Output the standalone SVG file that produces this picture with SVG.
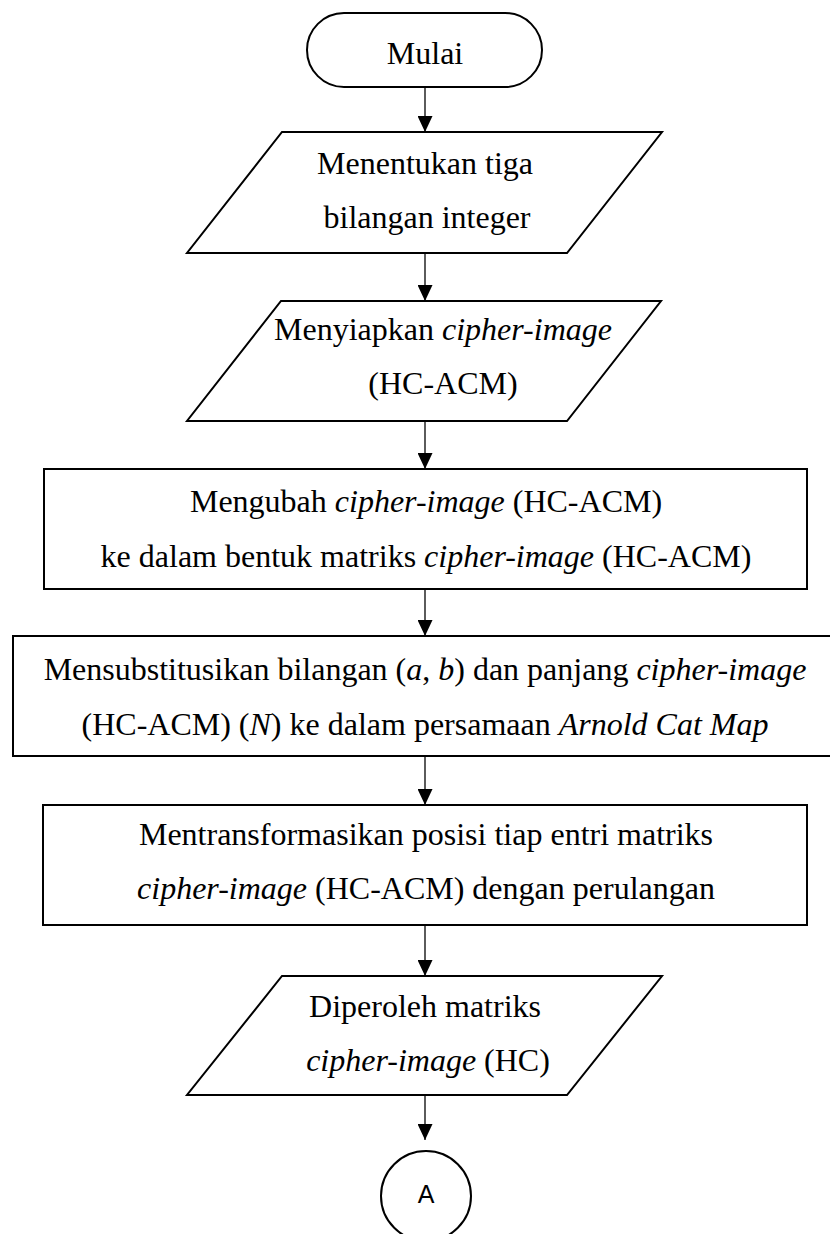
<svg xmlns="http://www.w3.org/2000/svg" width="830" height="1234" viewBox="0 0 830 1234">
  <style>
    .shape { fill: #ffffff; stroke: #000000; stroke-width: 2; }
    .conn { stroke: #333333; stroke-width: 1.6; fill: none; }
    .t { font-family: "Liberation Serif", "Times New Roman", serif; font-size: 32px; fill: #000000; text-anchor: middle; }
    .i { font-style: italic; }
    .sans { font-family: "Liberation Sans", Arial, sans-serif; font-size: 25px; fill: #000000; text-anchor: middle; }
  </style>
  <defs>
    <marker id="arrow" viewBox="0 0 16 15" markerWidth="16" markerHeight="15" refX="16" refY="7.5" orient="auto" markerUnits="userSpaceOnUse">
      <path d="M0,0 L16,7.5 L0,15 Z" fill="#000000"/>
    </marker>
  </defs>
  <rect width="830" height="1234" fill="#ffffff"/>

  <g id="connectors">
    <line class="conn" x1="425" y1="87" x2="425" y2="132" marker-end="url(#arrow)"/>
    <line class="conn" x1="425" y1="253" x2="425" y2="301" marker-end="url(#arrow)"/>
    <line class="conn" x1="425" y1="421" x2="425" y2="469" marker-end="url(#arrow)"/>
    <line class="conn" x1="425" y1="589" x2="425" y2="636" marker-end="url(#arrow)"/>
    <line class="conn" x1="425" y1="756" x2="425" y2="805" marker-end="url(#arrow)"/>
    <line class="conn" x1="425" y1="925" x2="425" y2="976" marker-end="url(#arrow)"/>
    <line class="conn" x1="425" y1="1095" x2="425" y2="1140" marker-end="url(#arrow)"/>
  </g>

  <g id="start">
    <rect class="shape" x="307" y="13" width="235" height="74" rx="37" ry="37"/>
    <text class="t" x="425" y="64">Mulai</text>
  </g>

  <g id="input-integers">
    <polygon class="shape" points="282,132 662,132 567,253 187,253"/>
    <text class="t" x="425" y="174">Menentukan tiga</text>
    <text class="t" x="427" y="228">bilangan integer</text>
  </g>

  <g id="input-cipher">
    <polygon class="shape" points="281,301 661,301 567,421 187,421"/>
    <text class="t" x="443" y="340">Menyiapkan <tspan class="i">cipher-image</tspan></text>
    <text class="t" x="443" y="394">(HC-ACM)</text>
  </g>

  <g id="convert-matrix">
    <rect class="shape" x="44" y="469" width="763" height="120"/>
    <text class="t" x="426" y="512">Mengubah <tspan class="i">cipher-image</tspan> (HC-ACM)</text>
    <text class="t" x="426" y="567">ke dalam bentuk matriks <tspan class="i">cipher-image</tspan> (HC-ACM)</text>
  </g>

  <g id="substitute">
    <rect class="shape" x="13" y="636" width="824" height="120"/>
    <text class="t" x="425" y="680">Mensubstitusikan bilangan (<tspan class="i">a</tspan>, <tspan class="i">b</tspan>) dan panjang <tspan class="i">cipher-image</tspan></text>
    <text class="t" x="425" y="735">(HC-ACM) (<tspan class="i">N</tspan>) ke dalam persamaan <tspan class="i">Arnold Cat Map</tspan></text>
  </g>

  <g id="transform">
    <rect class="shape" x="43" y="805" width="764" height="120"/>
    <text class="t" x="426" y="845">Mentransformasikan posisi tiap entri matriks</text>
    <text class="t" x="426" y="899"><tspan class="i">cipher-image</tspan> (HC-ACM) dengan perulangan</text>
  </g>

  <g id="output-matrix">
    <polygon class="shape" points="282,976 662,976 567,1095 187,1095"/>
    <text class="t" x="425" y="1017">Diperoleh matriks</text>
    <text class="t" x="428" y="1071"><tspan class="i">cipher-image</tspan> (HC)</text>
  </g>

  <g id="connector-A">
    <circle class="shape" cx="426" cy="1196" r="45"/>
    <text class="sans" x="426" y="1203">A</text>
  </g>
</svg>
